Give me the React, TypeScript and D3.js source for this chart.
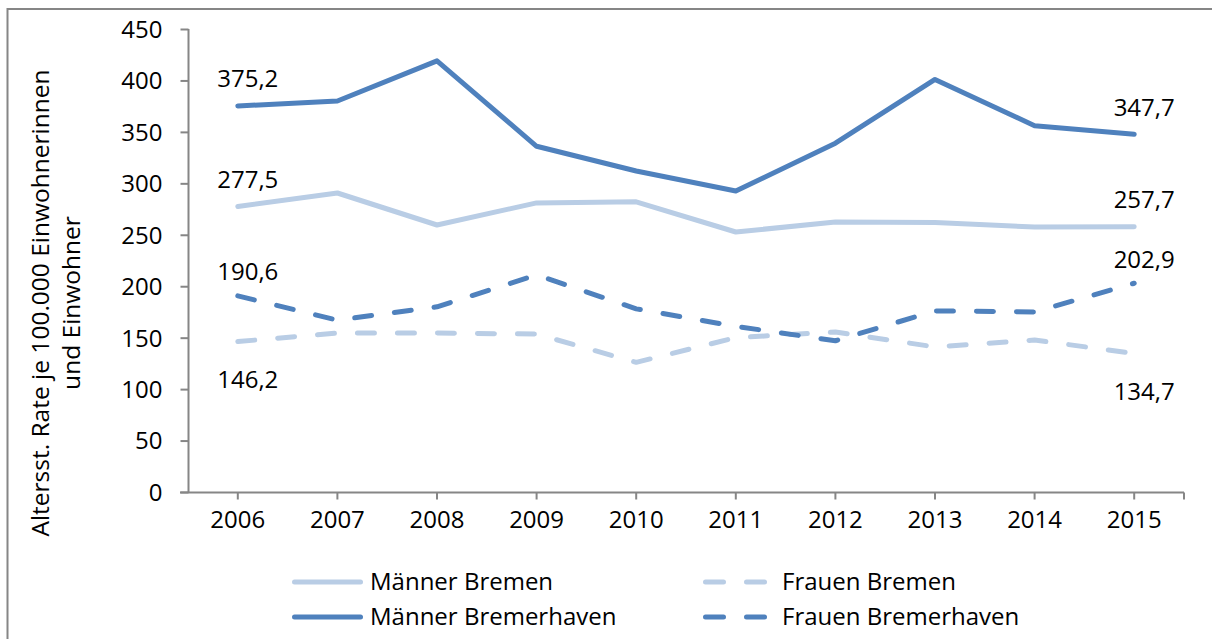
import React, { useEffect, useRef } from 'react'
import * as d3 from 'd3'

const years = ['2006', '2007', '2008', '2009', '2010', '2011', '2012', '2013', '2014', '2015']
const maennerBremen = [277.5, 290.6, 259.5, 281, 282, 252.7, 262.4, 262, 257.5, 257.7]
const frauenBremen = [146.2, 154.5, 154.5, 153.5, 126, 150, 155.5, 141, 147.7, 134.7]
const maennerBremerhaven = [375.2, 380, 419, 336, 312, 292.5, 339, 401, 356, 347.7]
const frauenBremerhaven = [190.6, 167, 180, 211, 178, 161, 147, 176, 175, 202.9]
const yTicks = [0, 50, 100, 150, 200, 250, 300, 350, 400, 450]

const LIGHT = '#b9cde5'
const DARK = '#4f81bd'
const AXIS = '#868686'
const FONT = '"Open Sans", sans-serif'

export default function App() {
  const ref = useRef<SVGSVGElement>(null)

  useEffect(() => {
    const svg = d3.select(ref.current)
    svg.selectAll('*').remove()

    // plot area
    const left = 188, right = 1184, top = 29, bottom = 492

    // outer frame of the chart (right and bottom edges lie outside the window)
    svg.append('rect')
      .attr('x', 7.5).attr('y', 9)
      .attr('width', 1240).attr('height', 660)
      .attr('fill', 'none')
      .attr('stroke', AXIS)
      .attr('stroke-width', 2)

    const x = d3.scaleBand().domain(years).range([left, right])
    const cx = (yr: string) => (x(yr) as number) + x.bandwidth() / 2
    const y = d3.scaleLinear().domain([0, 450]).range([bottom, top])

    // y axis
    const yAxis = d3.axisLeft(y).tickValues(yTicks).tickSize(8).tickPadding(18)
    const gy = svg.append('g').attr('transform', `translate(${left + 0.5},0)`).call(yAxis)
    gy.select('.domain').attr('stroke', AXIS).attr('stroke-width', 2).attr('d', `M0,${top}V${bottom}`)
    gy.selectAll('.tick line').attr('stroke', AXIS).attr('stroke-width', 2)
    gy.selectAll('.tick text')
      .attr('font-family', FONT).attr('font-size', 24).attr('fill', '#000')
      .attr('dy', '0.35em')

    // x axis
    const gx = svg.append('g').attr('transform', `translate(0,${bottom + 0.5})`)
    gx.append('line')
      .attr('x1', left - 8).attr('x2', right)
      .attr('stroke', AXIS).attr('stroke-width', 2)
    const tickXs = years.map(cx).concat([right])
    gx.selectAll('line.tk').data(tickXs).join('line')
      .attr('class', 'tk')
      .attr('x1', d => d).attr('x2', d => d)
      .attr('y1', 0).attr('y2', 7)
      .attr('stroke', AXIS).attr('stroke-width', 2)
    gx.selectAll('text').data(years).join('text')
      .attr('x', d => cx(d)).attr('y', 35)
      .attr('text-anchor', 'middle')
      .attr('font-family', FONT).attr('font-size', 24).attr('fill', '#000')
      .text(d => d)

    // y title
    const title = svg.append('text')
      .attr('transform', 'translate(0,303) rotate(-90)')
      .attr('text-anchor', 'middle')
      .attr('font-family', FONT).attr('font-size', 24.5).attr('fill', '#000')
    title.append('tspan').attr('x', 0).attr('y', 49).text('Altersst. Rate je 100.000 Einwohnerinnen')
    title.append('tspan').attr('x', 0).attr('y', 80).text('und Einwohner')

    const series = [
      { name: 'Männer Bremen', values: maennerBremen, color: LIGHT, dash: null, dy: -27 },
      { name: 'Frauen Bremen', values: frauenBremen, color: LIGHT, dash: '17 23', dy: 38 },
      { name: 'Männer Bremerhaven', values: maennerBremerhaven, color: DARK, dash: null, dy: -27 },
      { name: 'Frauen Bremerhaven', values: frauenBremerhaven, color: DARK, dash: '17 23', dy: -24 },
    ]

    const line = d3.line<number>()
      .x((_, i) => cx(years[i]))
      .y(d => y(d))

    series.forEach(s => {
      svg.append('path')
        .attr('d', line(s.values))
        .attr('fill', 'none')
        .attr('stroke', s.color)
        .attr('stroke-width', 5)
        .attr('stroke-linecap', 'round')
        .attr('stroke-linejoin', 'round')
        .attr('stroke-dasharray', s.dash)

      // labels on first and last point
      const ends = [0, s.values.length - 1]
      ends.forEach(i => {
        svg.append('text')
          .attr('x', cx(years[i]) + 10)
          .attr('y', y(s.values[i]) + s.dy)
          .attr('dy', '0.35em')
          .attr('text-anchor', 'middle')
          .attr('font-family', FONT).attr('font-size', 24).attr('fill', '#000')
          .text(d3.format('.1f')(s.values[i]).replace('.', ','))
      })
    })

    // legend
    const legendPos = [
      { x: 292, y: 582 }, { x: 703, y: 582 },
      { x: 292, y: 617 }, { x: 703, y: 617 },
    ]
    series.forEach((s, i) => {
      const p = legendPos[i]
      const g = svg.append('g').attr('transform', `translate(${p.x},${p.y})`)
      const len = s.dash ? 64 : 71
      g.append('line')
        .attr('x1', 2.5).attr('x2', len - 2.5)
        .attr('stroke', s.color).attr('stroke-width', 5)
        .attr('stroke-linecap', 'round')
        .attr('stroke-dasharray', s.dash ? '18 23' : null)
      g.append('text')
        .attr('x', s.dash ? 79 : 78)
        .attr('dy', '0.35em')
        .attr('font-family', FONT).attr('font-size', 24).attr('fill', '#000')
        .text(s.name)
    })
  }, [])

  return (
    <svg
      ref={ref}
      width={1212}
      height={639}
      style={{ position: 'absolute', left: 0, top: 0, background: '#fff' }}
    />
  )
}
